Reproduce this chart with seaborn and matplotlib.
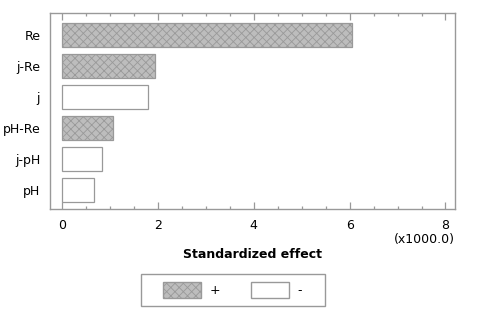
import matplotlib
matplotlib.use("Agg")
import matplotlib.pyplot as plt
from matplotlib.patches import Patch, Rectangle
from matplotlib.ticker import MultipleLocator
import seaborn as sns
import pandas as pd

# Effect names, standardized effects and their sign
effects = ["Re", "j-Re", "j", "pH-Re", "j-pH", "pH"]
std_effect = [6050, 1950, 1790, 1060, 830, 660]
signs = ["+", "+", "-", "+", "-", "-"]

df = pd.DataFrame({"effect": effects, "value": [v / 1000.0 for v in std_effect], "sign": signs})

sns.set_style("white")
plt.rcParams["font.family"] = ["DejaVu Sans"]
plt.rcParams["text.color"] = "black"
plt.rcParams["xtick.labelcolor"] = "black"
plt.rcParams["ytick.labelcolor"] = "black"
plt.rcParams["axes.labelcolor"] = "black"
plt.rcParams["hatch.color"] = "#8c8c8c"
plt.rcParams["hatch.linewidth"] = 0.6

edge = "#999999"
fill = "#bdbdbd"
fig = plt.figure(figsize=(4.78, 3.15), dpi=100)
ax = fig.add_axes([0.1046, 0.3365, 0.8474, 0.6222])

sns.barplot(data=df, x="value", y="effect", hue="sign", order=effects,
            hue_order=["+", "-"], palette={"+": fill, "-": "white"},
            dodge=False, width=0.8, edgecolor=edge, linewidth=0.9, legend=False, ax=ax)

# crosshatch for positive effects
for bar in ax.patches:
    if bar.get_facecolor()[0] < 0.9:
        bar.set_hatch("xxxx")

ax.set_xlim(-0.25, 8.2)
ax.set_ylim(5.61, -0.71)
ax.xaxis.set_major_locator(MultipleLocator(2))
ax.xaxis.set_minor_locator(MultipleLocator(0.5))
ax.tick_params(axis="x", which="major", direction="in", length=5, width=0.9, color=edge,
               top=True, bottom=True, labelsize=9, pad=7)
ax.tick_params(axis="x", which="minor", direction="in", length=2.5, width=0.9, color=edge,
               top=True, bottom=True)
ax.tick_params(axis="y", length=0, labelsize=9, pad=7)
for s in ax.spines.values():
    s.set_visible(True)
    s.set_color(edge)
    s.set_linewidth(1.0)

ax.set_ylabel("")
ax.set_xlabel("Standardized effect", fontsize=9, fontweight="bold", labelpad=12)
ax.text(1.0, -0.122, "(x1000.0)", transform=ax.transAxes, ha="right", va="top", fontsize=9)

# legend box drawn by hand, wider than the entries
fig.patches.append(Rectangle((141 / 478, 1 - 306 / 315), 184 / 478, 32 / 315,
                             transform=fig.transFigure, facecolor="white",
                             edgecolor=edge, linewidth=1.0, zorder=0))
handles = [Patch(facecolor=fill, edgecolor=edge, hatch="xxxx", label="+"),
           Patch(facecolor="white", edgecolor=edge, label="-")]
fig.legend(handles=handles, loc="center", bbox_to_anchor=(232.5 / 478, 1 - 290 / 315), ncol=2,
           frameon=False, fontsize=9,
           handlelength=3.0, handleheight=1.5, handletextpad=0.7, columnspacing=2.5,
           borderpad=0, borderaxespad=0)

fig.savefig("out.png", dpi=100)
